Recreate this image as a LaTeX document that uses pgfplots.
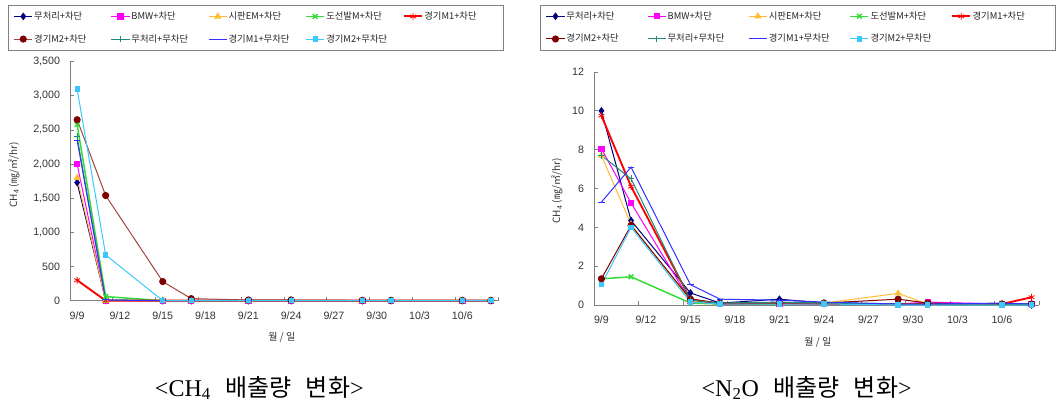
\documentclass[border=0pt]{standalone}
\usepackage{fontspec}
\setmainfont{Liberation Sans}
\newfontfamily\cjk{Noto Sans CJK KR}
\newfontfamily\titlefont{Liberation Serif}
\usepackage{pgfplots}
\pgfplotsset{compat=1.18}
\definecolor{c1}{RGB}{0,0,128}
\definecolor{c2}{RGB}{255,0,255}
\definecolor{c3}{RGB}{255,190,50}
\definecolor{c4}{RGB}{50,220,50}
\definecolor{c5}{RGB}{255,0,0}
\definecolor{c6}{RGB}{128,0,0}
\definecolor{c6l}{RGB}{160,70,60}
\definecolor{c7}{RGB}{30,140,120}
\definecolor{c8}{RGB}{50,50,255}
\definecolor{c9}{RGB}{60,200,255}
\definecolor{axgray}{RGB}{128,128,128}
\pgfplotsset{
  chartstyle/.style={
    scale only axis,
    axis lines*=left,
    axis line style={draw=axgray, line width=0.75pt},
    tick align=inside,
    clip=false,
    xmin=-0.5, xmax=29.5,
    xtick={0,3,...,27},
    xticklabels={9/9,9/12,9/15,9/18,9/21,9/24,9/27,9/30,10/3,10/6},
    minor xtick={2.5,5.5,...,29.5},
    major x tick style={draw=none},
    minor x tick style={draw=axgray, line width=0.6pt},
    y tick style={draw=axgray, line width=0.6pt},
    major tick length=3pt,
    minor tick length=3pt,
    /pgf/number format/assume math mode=true,
    tick label style={font=\fontsize{8}{9}\selectfont, text=black!80},
    xticklabel style={yshift=-4.5pt},
    yticklabel style={xshift=-4pt},
    label style={font=\fontsize{7.5}{8.5}\selectfont\cjk, text=black!80},
    legend columns=5,
    legend cell align=left,
    legend image code/.code={\draw[mark repeat=2,mark phase=2,##1] plot coordinates {(0cm,0cm) (0.24cm,0cm) (0.48cm,0cm)};},
    legend style={draw=axgray, line width=0.6pt, fill=white,
      font=\fontsize{7}{8}\selectfont\cjk, text=black!85,
      inner xsep=4pt, inner ysep=3.5pt, row sep=7.5pt,
      nodes={inner sep=1pt, text height=6pt, text depth=1.5pt},
      /tikz/every even column/.append style={column sep=2.5pt}},
    every axis plot/.append style={line width=0.75pt, mark options={solid}},
  }
}
\begin{document}
\begin{tikzpicture}
\useasboundingbox (0,0) rectangle (792pt,306pt);
% ---------------- CH4 ----------------
\begin{axis}[chartstyle,
  at={(52.5pt,80.5pt)}, anchor=south west,
  width=321pt, height=179.25pt,
  ymin=0, ymax=3500, ytick={0,500,...,3500},
  yticklabel style={/pgf/number format/.cd, 1000 sep={,}},
  scaled y ticks=false,
  ylabel={CH\textsubscript{4} (㎎/㎡/hr)},
  ylabel style={at={(axis description cs:-0.131,0.526)}, anchor=center},
  xlabel={월 / 일},
  xlabel style={at={(axis description cs:0.495,-0.152)}, anchor=center},
  legend style={at={(axis description cs:-0.145,1.237)}, anchor=north west},
]
\addplot[color=c1, mark=diamond*, mark size=2.3pt] coordinates {(0,1730) (2,5) (6,0) (8,0) (12,0) (15,0) (20,0) (22,0) (27,0) (29,0)};
\addlegendentry{\makebox[54pt][l]{무처리+차단}}
\addplot[color=c2, mark=square*, mark size=2pt] coordinates {(0,2000) (2,0) (6,0) (8,0) (12,0) (15,0) (20,0) (22,0) (27,0) (29,0)};
\addlegendentry{\makebox[54pt][l]{BMW+차단}}
\addplot[color=c3, mark=triangle*, mark size=2.4pt] coordinates {(0,1800) (2,0) (6,0) (8,0) (12,0) (15,0) (20,0) (22,0) (27,0) (29,0)};
\addlegendentry{\makebox[54pt][l]{시판EM+차단}}
\addplot[color=c4, line width=1.1pt, mark=x, mark size=2.5pt] coordinates {(0,2580) (2,60) (6,0) (8,0) (12,0) (15,0) (20,0) (22,0) (27,0) (29,0)};
\addlegendentry{\makebox[54pt][l]{도선발M+차단}}
\addplot[color=c5, line width=1.4pt, mark=asterisk, mark size=2.5pt, mark options={line width=0.6pt}] coordinates {(0,300) (2,0) (6,0) (8,0) (12,0) (15,0) (20,0) (22,0) (27,0) (29,0)};
\addlegendentry{\makebox[54pt][l]{경기M1+차단}}
\addplot[color=c6l, mark=*, mark size=2.3pt, mark options={fill=c6, draw=c6}] coordinates {(0,2650) (2,1540) (6,280) (8,30) (12,10) (15,10) (20,5) (22,5) (27,5) (29,5)};
\addlegendentry{\makebox[54pt][l]{경기M2+차단}}
\addplot[color=c7, mark=+, mark size=2.5pt] coordinates {(0,2400) (2,10) (6,0) (8,0) (12,0) (15,0) (20,0) (22,0) (27,0) (29,0)};
\addlegendentry{\makebox[54pt][l]{무처리+무차단}}
\addplot[color=c8, mark=-, mark size=2.5pt] coordinates {(0,2350) (2,10) (6,0) (8,0) (12,0) (15,0) (20,0) (22,0) (27,0) (29,0)};
\addlegendentry{\makebox[54pt][l]{경기M1+무차단}}
\addplot[color=c9, mark=square*, mark size=1.6pt] coordinates {(0,3100) (2,670) (6,0) (8,0) (12,0) (15,0) (20,0) (22,0) (27,0) (29,0)};
\addlegendentry{\makebox[54pt][l]{경기M2+무차단}}
\end{axis}
% ---------------- N2O ----------------
\begin{axis}[chartstyle,
  at={(445.5pt,77.25pt)}, anchor=south west,
  width=333.75pt, height=174.75pt,
  ymin=0, ymax=12, ytick={0,2,...,12},
  ylabel={CH\textsubscript{4} (㎎/㎡/hr)},
  ylabel style={at={(axis description cs:-0.083,0.489)}, anchor=center},
  xlabel={월 / 일},
  xlabel style={at={(axis description cs:0.503,-0.159)}, anchor=center},
  legend style={at={(axis description cs:-0.121,1.288)}, anchor=north west},
]
\addplot[color=c1, mark=diamond*, mark size=2.3pt] coordinates {(0,10.0) (2,4.35) (6,0.62) (8,0.1) (12,0.3) (15,0.1) (20,0.05) (22,0.05) (27,0.05) (29,0.0)};
\addlegendentry{\makebox[57pt][l]{무처리+차단}}
\addplot[color=c2, mark=square*, mark size=2pt] coordinates {(0,8.05) (2,5.25) (6,0.2) (8,0.05) (12,0.05) (15,0.05) (20,0.05) (22,0.15) (27,0.05) (29,0.05)};
\addlegendentry{\makebox[57pt][l]{BMW+차단}}
\addplot[color=c3, mark=triangle*, mark size=2.4pt] coordinates {(0,7.7) (2,4.15) (6,0.2) (8,0.05) (12,0.1) (15,0.1) (20,0.6) (22,0.05) (27,0.05) (29,0.05)};
\addlegendentry{\makebox[57pt][l]{시판EM+차단}}
\addplot[color=c4, line width=1.1pt, mark=x, mark size=2.5pt] coordinates {(0,1.35) (2,1.45) (6,0.1) (8,0.05) (12,0.05) (15,0.1) (20,0.05) (22,0.05) (27,0.05) (29,0.05)};
\addlegendentry{\makebox[57pt][l]{도선발M+차단}}
\addplot[color=c5, line width=1.4pt, mark=asterisk, mark size=2.5pt, mark options={line width=0.6pt}] coordinates {(0,9.75) (2,6.1) (6,0.3) (8,0.05) (12,0.1) (15,0.05) (20,0.05) (22,0.05) (27,0.05) (29,0.4)};
\addlegendentry{\makebox[57pt][l]{경기M1+차단}}
\addplot[color=c6, mark=*, mark size=2.3pt] coordinates {(0,1.35) (2,4.1) (6,0.3) (8,0.1) (12,0.1) (15,0.1) (20,0.3) (22,0.1) (27,0.05) (29,0.05)};
\addlegendentry{\makebox[57pt][l]{경기M2+차단}}
\addplot[color=c7, mark=+, mark size=2.5pt] coordinates {(0,7.7) (2,6.5) (6,0.25) (8,0.1) (12,0.15) (15,0.1) (20,0.05) (22,0.05) (27,0.05) (29,0.05)};
\addlegendentry{\makebox[57pt][l]{무처리+무차단}}
\addplot[color=c8, mark=-, mark size=2.5pt] coordinates {(0,5.3) (2,7.1) (6,1.05) (8,0.3) (12,0.25) (15,0.15) (20,0.05) (22,0.05) (27,0.1) (29,0.05)};
\addlegendentry{\makebox[57pt][l]{경기M1+무차단}}
\addplot[color=c9, mark=square*, mark size=1.6pt] coordinates {(0,1.05) (2,4.0) (6,0.15) (8,0.05) (12,0.05) (15,0.05) (20,0.0) (22,0.0) (27,0.0) (29,0.0)};
\addlegendentry{\makebox[57pt][l]{경기M2+무차단}}
\end{axis}
% ---------------- captions ----------------
\node[font=\fontsize{18}{21}\selectfont] at (194.5pt,15pt) {\titlefont <CH\textsubscript{4}\hspace{0.6em}{\cjk 배출량}\hspace{0.6em}{\cjk 변화}>};
\node[font=\fontsize{18}{21}\selectfont] at (605pt,15pt) {\titlefont <N\textsubscript{2}O\hspace{0.6em}{\cjk 배출량}\hspace{0.6em}{\cjk 변화}>};
\end{tikzpicture}
\end{document}
